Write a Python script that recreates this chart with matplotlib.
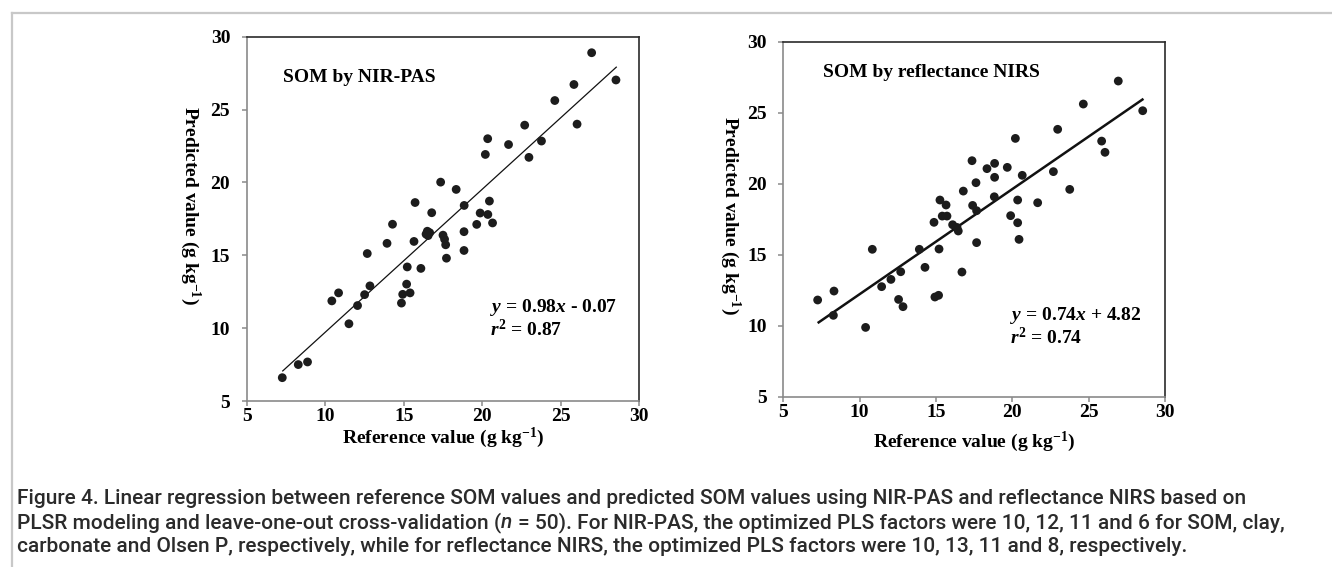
import matplotlib
matplotlib.use("Agg")
import matplotlib.pyplot as plt
from matplotlib.lines import Line2D

# ---------------- data ----------------
pas_ref = [7.25, 8.27, 8.86, 10.41, 10.84, 11.5, 12.05, 12.5, 12.67, 12.84,
           13.93, 14.28, 14.85, 14.93, 15.18, 15.22, 15.4, 15.65, 15.72, 16.09,
           16.42, 16.5, 16.65, 16.55, 16.78, 17.35, 17.5, 17.6, 17.67, 17.72,
           18.34, 18.85, 18.84, 18.84, 19.65, 19.87, 20.2, 20.35, 20.36, 20.46,
           20.66, 21.68, 22.71, 22.98, 23.78, 24.63, 25.85, 26.05, 26.98, 28.53]
pas_pred = [6.6, 7.5, 7.68, 11.87, 12.42, 10.3, 11.55, 12.3, 15.12, 12.9,
            15.82, 17.13, 11.72, 12.32, 13.02, 14.2, 12.42, 15.95, 18.62, 14.1,
            16.45, 16.65, 16.55, 16.35, 17.92, 20.02, 16.38, 16.1, 15.72, 14.8,
            19.52, 18.42, 16.62, 15.33, 17.12, 17.9, 21.92, 23.0, 17.8, 18.72,
            17.22, 22.6, 23.93, 21.72, 22.84, 25.62, 26.72, 24.0, 28.9, 27.03]

nirs_ref = [7.25, 8.32, 8.28, 10.39, 10.83, 11.44, 12.05, 12.69, 12.55, 12.84,
            13.91, 14.28, 14.87, 14.93, 15.17, 15.2, 15.26, 15.41, 15.66, 15.72,
            16.09, 16.38, 16.46, 16.79, 16.7, 17.36, 17.4, 17.62, 17.66, 17.66,
            18.34, 18.84, 18.84, 18.82, 19.67, 19.89, 20.2, 20.35, 20.35, 20.44,
            20.65, 21.66, 22.69, 22.97, 23.76, 24.65, 25.85, 26.07, 26.94, 28.54]
nirs_pred = [11.81, 12.44, 10.73, 9.88, 15.38, 12.75, 13.26, 13.8, 11.85, 11.34,
             15.38, 14.11, 17.28, 12.02, 12.14, 15.4, 18.85, 17.72, 18.5, 17.72,
             17.11, 16.92, 16.67, 19.48, 13.78, 21.62, 18.47, 20.07, 15.85, 18.1,
             21.06, 21.43, 20.45, 19.08, 21.15, 17.75, 23.19, 18.85, 17.25, 16.08,
             20.59, 18.66, 20.85, 23.83, 19.6, 25.61, 23.0, 22.21, 27.23, 25.14]

fit_pas = (0.98, -0.07)
fit_nirs = (0.74, 4.82)
ticks = [5, 10, 15, 20, 25, 30]
titles = ["SOM by NIR-PAS", "SOM by reflectance NIRS"]
eq_texts = ["$\\mathit{y}$ = 0.98$\\mathit{x}$ - 0.07", "$\\mathit{y}$ = 0.74$\\mathit{x}$ + 4.82"]
r2_texts = ["$\\mathit{r}^{2}$ = 0.87", "$\\mathit{r}^{2}$ = 0.74"]
xlabel = "Reference value (g kg$^{-1}$)"
ylabel = "Predicted value (g kg$^{-1}$)"
caption_lines = [
    [("Figure 4. Linear regression between reference SOM values and predicted SOM values using NIR-PAS and reflectance NIRS based on", "normal")],
    [("PLSR modeling and leave-one-out cross-validation (", "normal"), ("n", "italic"),
     (" = 50). For NIR-PAS, the optimized PLS factors were 10, 12, 11 and 6 for SOM, clay,", "normal")],
    [("carbonate and Olsen P, respectively, while for reflectance NIRS, the optimized PLS factors were 10, 13, 11 and 8, respectively.", "normal")],
]

# ---------------- style ----------------
plt.rcParams['mathtext.fontset'] = 'custom'
plt.rcParams['mathtext.rm'] = 'Liberation Serif:bold'
plt.rcParams['mathtext.it'] = 'Liberation Serif:italic:bold'
plt.rcParams['mathtext.bf'] = 'Liberation Serif:bold'
plt.rcParams['font.family'] = ['Liberation Serif', 'DejaVu Serif']
plt.rcParams['font.weight'] = 'bold'

W, H = 1332, 567
fig = plt.figure(figsize=(W / 100, H / 100), dpi=100)
fig.patch.set_facecolor('white')

def px_axes(x0, x1, ytop, ybot):
    return fig.add_axes([x0 / W, 1 - ybot / H, (x1 - x0) / W, (ybot - ytop) / H])

ax1 = px_axes(247, 639, 36.7, 401)
ax2 = px_axes(783.3, 1165, 41.7, 396.7)

FS = 14
panels = [
    (ax1, pas_ref, pas_pred, fit_pas, 0.9, (7.3, 27.18), (20.5, 11.39), (20.5, 9.88), (-0.100, -0.145, 0.538)),
    (ax2, nirs_ref, nirs_pred, fit_nirs, 1.8, (7.6, 27.8), (19.85, 10.75), (19.85, 9.2), (-0.128, -0.14, 0.51)),
]

for i, (ax, xs, ys, fit, lw, tpos, epos, rpos, lab) in enumerate(panels):
    ax.scatter(xs, ys, s=40, color='#1c1c1c', edgecolors='none', zorder=3)
    x0, x1 = min(xs), max(xs) + 0.05
    ax.plot([x0, x1], [fit[0] * x0 + fit[1], fit[0] * x1 + fit[1]],
            color='#111111', lw=lw, zorder=2, solid_capstyle='butt')
    ax.set_xlim(5, 30)
    ax.set_ylim(5, 30)
    ax.set_xticks(ticks)
    ax.set_yticks(ticks)
    ax.set_xticklabels([str(t) for t in ticks], fontsize=FS, fontweight='bold')
    ax.set_yticklabels([str(t) for t in ticks], fontsize=FS, fontweight='bold')
    ax.tick_params(axis='both', direction='out', length=3.6, width=1.1, color='#8a8a8a')
    ax.tick_params(axis='x', pad=1.5)
    ax.tick_params(axis='y', pad=8.5)
    for side in ('left', 'bottom'):
        ax.spines[side].set_color('#8a8a8a')
        ax.spines[side].set_linewidth(1.2)
    for side in ('top', 'right'):
        ax.spines[side].set_color('#2a2a2a')
        ax.spines[side].set_linewidth(1.2)
    ax.text(tpos[0], tpos[1], titles[i], fontsize=FS, fontweight='bold', va='center', ha='left')
    ax.text(epos[0], epos[1], eq_texts[i], fontsize=FS, fontweight='bold', va='center', ha='left')
    ax.text(rpos[0], rpos[1], r2_texts[i], fontsize=FS, fontweight='bold', va='center', ha='left')
    ax.set_xlabel(xlabel, fontsize=FS, fontweight='bold')
    ax.xaxis.set_label_coords(0.5, lab[0])
    ax.xaxis.label.set_va('center')
    ax.set_ylabel(ylabel, fontsize=FS, fontweight='bold', rotation=-90)
    ax.yaxis.set_label_coords(lab[1], lab[2])
    ax.yaxis.label.set_va('center')
    ax.yaxis.label.set_ha('center')

# frame lines (top and left)
fig.add_artist(Line2D([12 / W, 1], [1 - 13 / H, 1 - 13 / H], transform=fig.transFigure,
                      color='#c8c8c8', lw=1.6))
fig.add_artist(Line2D([12 / W, 12 / W], [1 - 13 / H, 0], transform=fig.transFigure,
                      color='#c8c8c8', lw=1.6))

# caption
renderer = fig.canvas.get_renderer()
cap_kw = dict(fontsize=15, family=['Roboto', 'DejaVu Sans'], fontweight='medium', color='#2b2b2b')
probe1 = fig.text(0, 0, "a a", **cap_kw)
probe2 = fig.text(0, 0, "aa", **cap_kw)
space_w = probe1.get_window_extent(renderer).width - probe2.get_window_extent(renderer).width
probe1.remove()
probe2.remove()

baselines = [504, 528, 552]
for line, yb in zip(caption_lines, baselines):
    x = 17.0
    for s, style in line:
        lead = len(s) - len(s.lstrip(' '))
        trail = len(s) - len(s.rstrip(' '))
        x += lead * space_w
        core = s.strip(' ')
        t = fig.text(x / W, 1 - yb / H, core, style=style, va='baseline', ha='left', **cap_kw)
        x += t.get_window_extent(renderer).width + trail * space_w

fig.savefig('out.png', dpi=100, facecolor='white')
